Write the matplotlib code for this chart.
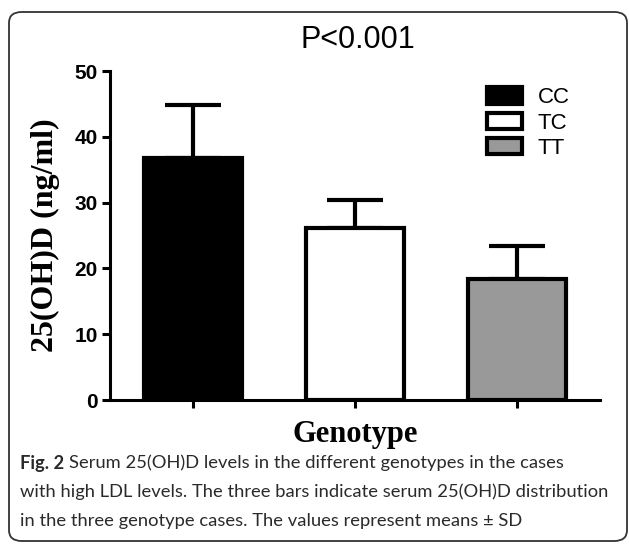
import matplotlib.pyplot as plt
from matplotlib.patches import FancyBboxPatch, Rectangle

# data
genotypes = ['CC', 'TC', 'TT']
means = [36.8, 26.1, 18.4]
sds = [8.0, 4.3, 5.0]
bar_colors = ['black', 'white', '#999999']
y_ticks = [0, 10, 20, 30, 40, 50]

W, H = 629, 544
fig = plt.figure(figsize=(W / 100, H / 100), dpi=100)

# rounded frame around the whole figure panel
frame = FancyBboxPatch((9 / W, 3 / H), 618 / W, 529 / H,
                       boxstyle='round,pad=0,rounding_size=0.02',
                       transform=fig.transFigure, fill=False,
                       edgecolor='#333333', linewidth=1.3)
fig.patches.append(frame)

ax = fig.add_axes([110 / W, 144 / H, 490 / W, 329 / H])

x = range(len(genotypes))
ax.bar(x, means, width=0.605, color=bar_colors, edgecolor='black',
       linewidth=3, zorder=2)
ax.errorbar(x, means, yerr=[[0] * len(sds), sds], fmt='none',
            ecolor='black', elinewidth=3, capsize=20, capthick=3, zorder=1)

ax.set_xlim(-0.512, 2.512)
ax.set_ylim(0, 50)
ax.set_yticks(y_ticks)
ax.set_xticks(list(x))
ax.set_xticklabels([])

for s in ['top', 'right']:
    ax.spines[s].set_visible(False)
for s in ['left', 'bottom']:
    ax.spines[s].set_linewidth(2.2)

ax.tick_params(axis='y', length=6, width=2.2, pad=3, labelsize=15)
ax.tick_params(axis='x', length=6, width=2.2)
for lab in ax.get_yticklabels():
    lab.set_fontweight('bold')
    lab.set_family('Liberation Sans')

ax.set_ylabel('25(OH)D (ng/ml)', family='Liberation Serif',
              fontweight='bold', fontsize=23)
ax.yaxis.set_label_coords(-0.102, 0.5)
ax.set_xlabel('Genotype', family='Liberation Serif', fontweight='bold',
              fontsize=22, labelpad=5)

fig.text(358 / W, 1 - 40 / H, 'P<0.001', ha='center', va='center',
         family='Liberation Sans', fontsize=22)

handles = [Rectangle((0, 0), 1, 1, facecolor=c, edgecolor='black',
                     linewidth=3, joinstyle='round') for c in bar_colors]
ax.legend(handles, genotypes, loc='upper left',
          bbox_to_anchor=(368 / 490, 0.978), frameon=False,
          prop={'family': 'Liberation Sans', 'size': 16},
          handlelength=1.6, handleheight=0.75, labelspacing=0.2,
          handletextpad=0.7, borderaxespad=0)

# caption
cap_font = {'family': 'Lato', 'fontsize': 13.2, 'color': '#2a2a2a'}
fig_lbl = fig.text(20 / W, 1 - 463 / H, 'Fig. 2', fontweight='bold',
                   va='center', **cap_font)
renderer = fig.canvas.get_renderer()
bb = fig_lbl.get_window_extent(renderer)
fig.text((bb.x1 + 5) / W, 1 - 463 / H,
         'Serum 25(OH)D levels in the different genotypes in the cases',
         va='center', **cap_font)
fig.text(20 / W, 1 - 492 / H,
         'with high LDL levels. The three bars indicate serum 25(OH)D distribution',
         va='center', **cap_font)
fig.text(20 / W, 1 - 521 / H,
         'in the three genotype cases. The values represent means \u00b1 SD',
         va='center', **cap_font)

fig.savefig('out.png', dpi=100)
